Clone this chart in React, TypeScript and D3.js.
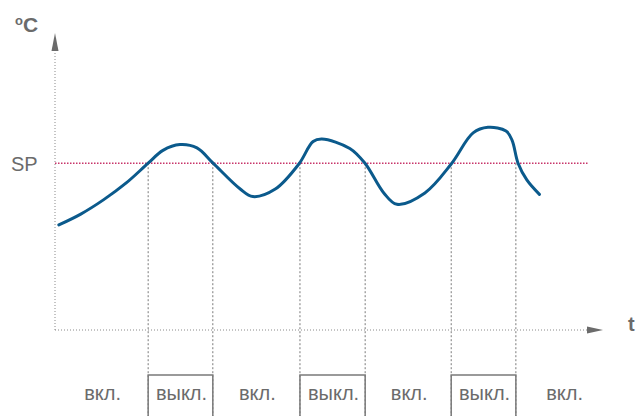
import React from "react";
import * as d3 from "d3";

// Temperature curve: time (arbitrary units) and temperature (°C)
const curveTime = [0.7, 4.7, 8.9, 13.0, 17.0, 19.7, 22.8, 25.9, 28.8, 33.8, 36.1, 40.2, 44.5, 47.1, 48.7, 53.8, 56.6, 60.0, 62.4, 67.5, 72.3, 76.3, 79.0, 82.3, 83.4, 84.5, 86.1, 88.4];
const curveTemp = [37.8, 41.7, 46.9, 52.9, 60.0, 64.6, 66.7, 65.5, 60.1, 50.7, 48.0, 50.7, 59.7, 67.8, 68.7, 65.3, 59.9, 49.3, 45.2, 49.3, 59.7, 70.9, 72.9, 71.6, 68.3, 60.0, 54.0, 48.8];

const setPoint = 60;
const switchTimes = [17.0, 28.8, 44.7, 56.6, 72.3, 84.1];
const phaseStart = [0, 17.0, 28.8, 44.7, 56.6, 72.3, 84.1];
const phaseEnd = [17.0, 28.8, 44.7, 56.6, 72.3, 84.1, 101.5];
const phaseLabels = ["вкл.", "выкл.", "вкл.", "выкл.", "вкл.", "выкл.", "вкл."];

const W = 636;
const H = 416;
const FONT = "'Liberation Sans', Arial, Helvetica, sans-serif";
const TEXT = "#6b6b6b";

export default function App() {
  const x = d3.scaleLinear().domain([0, 100]).range([55, 603]);
  const y = d3.scaleLinear().domain([0, 100]).range([330, 52]);

  const pts: [number, number][] = curveTime.map((t, i) => [t, curveTemp[i]]);
  const line = d3
    .line<[number, number]>()
    .x((d) => x(d[0]))
    .y((d) => y(d[1]))
    .curve(d3.curveCatmullRom.alpha(0.5));

  const x0 = x(0);
  const y0 = y(0);
  const ySP = y(setPoint);
  const boxTop = 375;

  return (
    <svg
      width={W}
      height={H}
      style={{ position: "absolute", left: 0, top: 0, background: "#fff" }}
      fontFamily={FONT}
    >
      {/* Y axis */}
      <line x1={x0} x2={x0} y1={y0} y2={50} stroke="#8a8a8a" strokeWidth={1} strokeDasharray="1,2" />
      <path d={`M${x0 - 3.5},${51} L${x0},${33} L${x0 + 3.5},${51} Z`} fill="#6b6b6b" />
      {/* X axis */}
      <line x1={x0} x2={588} y1={y0} y2={y0} stroke="#8a8a8a" strokeWidth={1} strokeDasharray="1,2" />
      <path d={`M${587},${y0 - 3.5} L${x(100)},${y0} L${587},${y0 + 3.5} Z`} fill="#6b6b6b" />

      {/* Set point line */}
      <line x1={x0} x2={588} y1={ySP} y2={ySP} stroke="#c8356a" strokeWidth={1.5} strokeDasharray="1.5,1.5" />

      {/* Switch lines */}
      {switchTimes.map((t, i) => (
        <line key={i} x1={x(t)} x2={x(t)} y1={ySP} y2={H} stroke="#7a7a7a" strokeWidth={1} strokeDasharray="2,2" />
      ))}

      {/* Off boxes */}
      {phaseLabels.map((lab, i) =>
        lab === "выкл." ? (
          <path
            key={i}
            d={`M${x(phaseStart[i])},${H} L${x(phaseStart[i])},${boxTop} L${x(phaseEnd[i])},${boxTop} L${x(phaseEnd[i])},${H}`}
            fill="none"
            stroke="#7a7a7a"
            strokeWidth={1.5}
          />
        ) : null
      )}

      {/* Phase labels */}
      {phaseLabels.map((lab, i) => (
        <text
          key={i}
          x={(x(phaseStart[i]) + x(phaseEnd[i])) / 2 + 1}
          y={400}
          textAnchor="middle"
          fontSize={20}
          fill={TEXT}
        >
          {lab}
        </text>
      ))}

      {/* Temperature curve */}
      <path d={line(pts) || ""} fill="none" stroke="#0b5a8c" strokeWidth={3} strokeLinecap="round" strokeLinejoin="round" />

      {/* Labels */}
      <text x={11} y={171} fontSize={20} fill={TEXT}>SP</text>
      <text x={15} y={32} fontSize={21} fontWeight="bold" fill={TEXT}>
        <tspan fontSize={13} dy={-7}>o</tspan>
        <tspan dy={7}>C</tspan>
      </text>
      <text x={628} y={331} fontSize={20} fontWeight="bold" fill={TEXT}>t</text>
    </svg>
  );
}
